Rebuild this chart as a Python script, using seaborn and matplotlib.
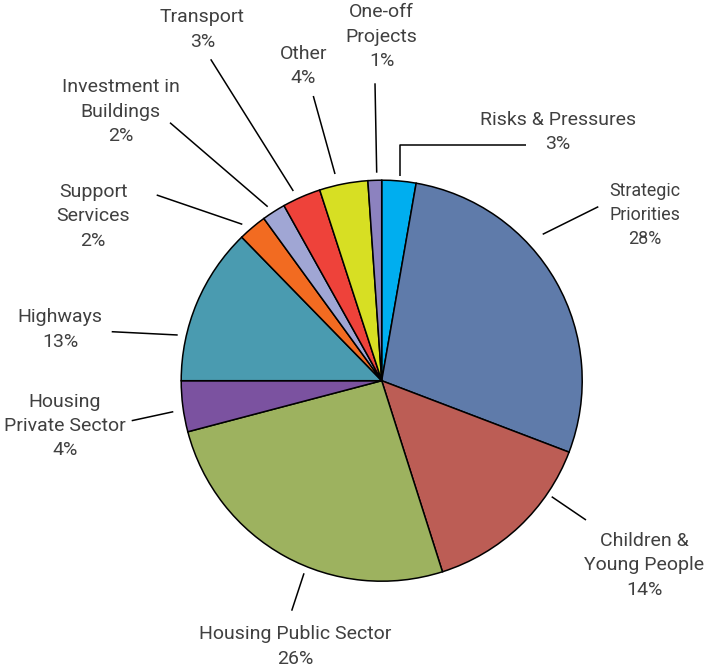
import matplotlib
matplotlib.use("Agg")
import matplotlib.pyplot as plt
import seaborn as sns

# Budget shares by area, clockwise from the top of the pie
areas = [
    "Risks & Pressures", "Strategic\nPriorities", "Children &\nYoung People",
    "Housing Public Sector", "Housing\nPrivate Sector", "Highways",
    "Support\nServices", "Investment in\nBuildings", "Transport", "Other",
    "One-off\nProjects",
]
shares = [2.75, 28.05, 14.3, 25.8, 4.1, 12.7, 2.3, 1.9, 3.1, 3.9, 1.1]
colors = [
    "#00AEEF", "#5F7BAA", "#BC5D55", "#9DB25F", "#7B52A0", "#4A9BB0",
    "#F26B21", "#A0A6D4", "#EE423A", "#D7DF23", "#8C82BF",
]

W, H = 718, 671

# Label layout in pixel units measured from the top-left corner:
# text centre, leader-line points, font scale
layout = [
    dict(xy=(558, 132), line=[(400, 176), (400, 145.3), (526, 145.3)], scale=1.0),
    dict(xy=(645, 215), line=[(542.7, 234.3), (598.3, 206.7)], scale=0.92),
    dict(xy=(644.5, 565.5), line=[(551.7, 496.7), (586, 520)], scale=1.0),
    dict(xy=(295, 646.5), line=[(304, 573.3), (291.7, 610.7)], scale=1.0),
    dict(xy=(65, 426), line=[(173.3, 411.7), (131.7, 420.7)], scale=1.0),
    dict(xy=(60, 329.5), line=[(177.7, 335), (111.7, 331.7)], scale=1.0),
    dict(xy=(93.3, 216.3), line=[(242.3, 224.3), (156.7, 195)], scale=1.0),
    dict(xy=(120.8, 111.7), line=[(267.7, 206.7), (170, 122.7)], scale=1.0),
    dict(xy=(202.5, 29.5), line=[(293.3, 191), (210.7, 59.3)], scale=1.0),
    dict(xy=(303.3, 66.2), line=[(335, 174), (313.3, 96)], scale=1.0),
    dict(xy=(381.7, 36.7), line=[(376.7, 172.7), (375, 83.3)], scale=1.0),
]

sns.set_theme(style="white")
plt.rcParams["font.family"] = ["Roboto", "DejaVu Sans"]

fig = plt.figure(figsize=(W / 100, H / 100), dpi=100)
ax = fig.add_axes([0, 0, 1, 1])


def flip(p):
    return p[0], H - p[1]


cx, cy = flip((381.7, 380.7))
ax.pie(
    shares,
    colors=colors,
    startangle=90,
    counterclock=False,
    center=(cx, cy),
    radius=200.5,
    wedgeprops=dict(edgecolor="black", linewidth=1.1),
    frame=True,
)
ax.set_xlim(0, W)
ax.set_ylim(0, H)
ax.set_aspect("equal")
ax.axis("off")

base_size = 14.0
for name, val, lay in zip(areas, shares, layout):
    xs, ys = zip(*[flip(p) for p in lay["line"]])
    ax.plot(xs, ys, color="black", lw=1.1, solid_capstyle="butt")
    tx, ty = flip(lay["xy"])
    ax.text(tx, ty, f"{name}\n{val:.0f}%", ha="center", va="center",
            fontsize=base_size * lay["scale"], color="#404040",
            linespacing=1.45)

fig.savefig("out.png", dpi=100)
